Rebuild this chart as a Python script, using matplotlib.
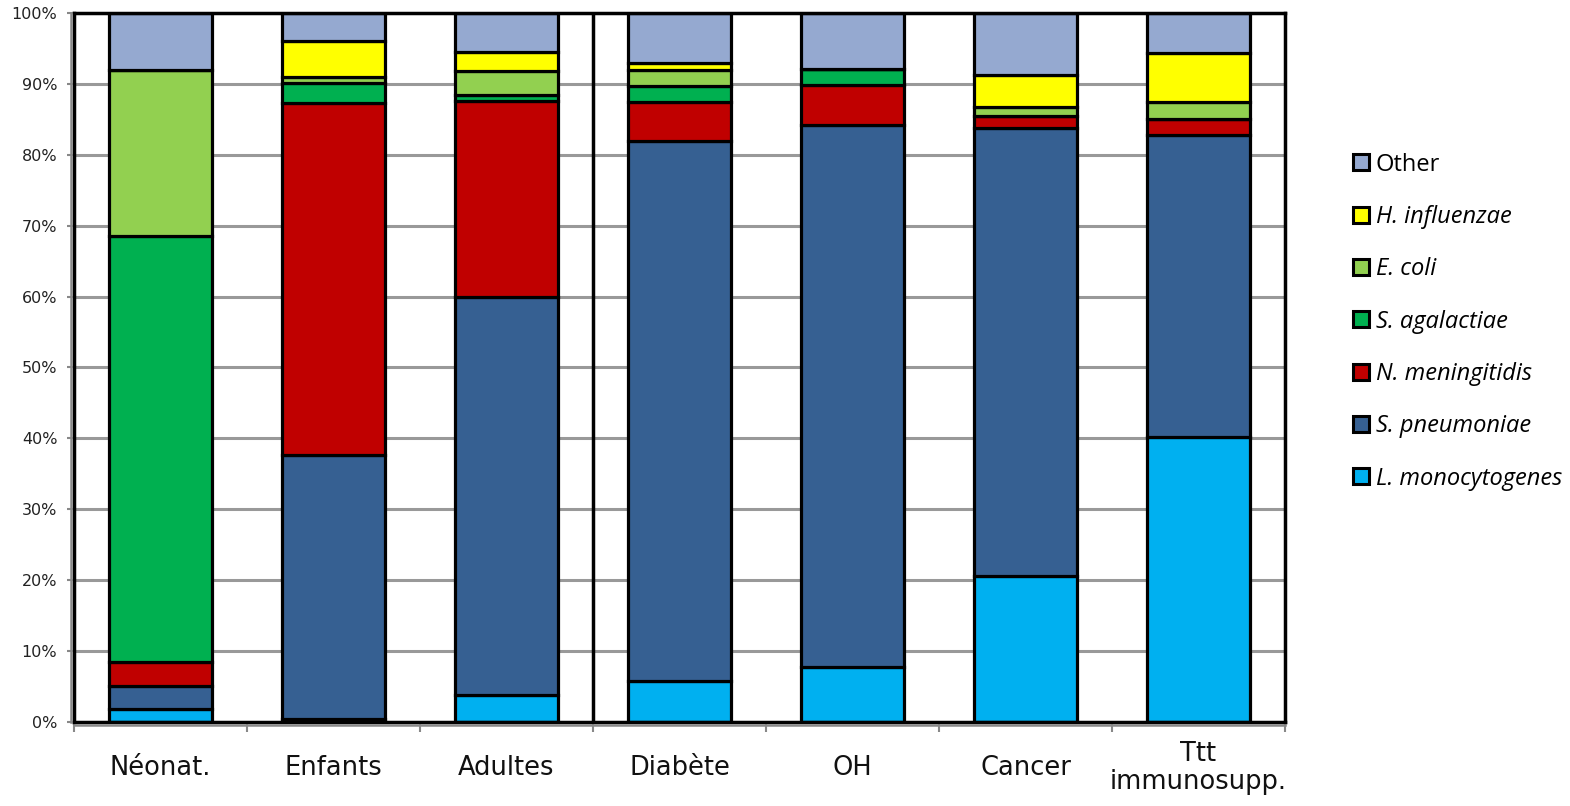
import matplotlib
matplotlib.use("Agg")
import matplotlib.pyplot as plt
from matplotlib.patches import Patch
from matplotlib.transforms import ScaledTranslation
import numpy as np

categories = ["Néonat.", "Enfants", "Adultes", "Diabète", "OH", "Cancer", "Ttt\nimmunosupp."]

# Share of each pathogen per population (%), bottom to top of the stack
l_monocytogenes = [1.8, 0.4, 3.8, 5.8, 7.7, 20.6, 40.2]
s_pneumoniae    = [3.3, 37.3, 56.1, 76.2, 76.5, 63.2, 42.6]
n_meningitidis  = [3.4, 49.6, 27.7, 5.5, 5.6, 1.6, 2.3]
s_agalactiae    = [60.0, 2.8, 0.9, 2.2, 2.3, 0.0, 0.0]
e_coli          = [23.4, 0.8, 3.3, 2.2, 0.0, 1.4, 2.3]
h_influenzae    = [0.0, 5.2, 2.7, 1.1, 0.0, 4.4, 6.9]
other           = [8.1, 3.9, 5.5, 7.0, 7.9, 8.8, 5.7]

series_names = ["L. monocytogenes", "S. pneumoniae", "N. meningitidis",
                "S. agalactiae", "E. coli", "H. influenzae", "Other"]
series_values = [l_monocytogenes, s_pneumoniae, n_meningitidis,
                 s_agalactiae, e_coli, h_influenzae, other]
series_colors = ["#00B0F0", "#366092", "#C00000", "#00B050",
                 "#92D050", "#FFFF00", "#95A9D0"]

fig = plt.figure(figsize=(15.7, 8.06), dpi=100)
ax = fig.add_axes([0.0471, 0.1042, 0.7714, 0.8797])

x = np.arange(len(categories))
bottom = np.zeros(len(categories))
for name, vals, col in zip(series_names, series_values, series_colors):
    vals = np.array(vals)
    ax.bar(x, vals, width=0.6, bottom=bottom, color=col, edgecolor="black",
           linewidth=2.3, zorder=3, label=name)
    bottom += vals

ax.set_xlim(-0.5, len(categories) - 0.5)
ax.set_ylim(0, 100)

# Horizontal grid
ax.set_yticks(np.arange(0, 101, 10))
ax.set_yticklabels([f"{v}%" for v in range(0, 101, 10)],
                   fontsize=11.5, family="DejaVu Sans", color="#222222")
ax.yaxis.grid(True, color="#999999", linewidth=2.2, zorder=0)
ax.tick_params(axis="y", direction="out", length=5, width=1.5, color="#888888", pad=7)

# Category labels at bar centres, ticks at category boundaries
ax.set_xticks(x)
ax.set_xticklabels(categories, fontsize=18.5, family="DejaVu Sans", color="#111111",
                   linespacing=1.1)
for lbl in ax.get_xticklabels():
    lbl.set_verticalalignment("center")
ax.tick_params(axis="x", which="major", length=0, pad=33)
ax.set_xticks(np.arange(-0.5, len(categories), 1.0), minor=True)
ax.tick_params(axis="x", which="minor", direction="out", length=7, width=1.5,
               color="#888888")

# Plot frame
for sp in ax.spines.values():
    sp.set_color("black")
    sp.set_linewidth(2.5)
    sp.set_zorder(4)

# Grey axis lines just outside the frame
off_left = ScaledTranslation(-2.5 / 100, 0, fig.dpi_scale_trans)
off_bottom = ScaledTranslation(0, -3 / 100, fig.dpi_scale_trans)
ax.plot([0, 0], [0, 1], transform=ax.transAxes + off_left, color="#888888",
        lw=1.8, clip_on=False, zorder=5)
ax.plot([0, 1], [0, 0], transform=ax.transAxes + off_bottom, color="#888888",
        lw=1.8, clip_on=False, zorder=5)

# Separator between age groups and risk factors
ax.axvline(2.5, color="black", linewidth=2.5, zorder=4)

# Legend, top entry first
handles = [Patch(facecolor=c, edgecolor="black", linewidth=2.2) for c in series_colors][::-1]
labels = series_names[::-1]
leg = fig.legend(handles, labels, loc="center left", bbox_to_anchor=(0.848, 0.601),
                 frameon=False, handlelength=0.68, handleheight=0.68,
                 handletextpad=0.3, labelspacing=1.2,
                 prop={"family": "Open Sans", "size": 17})
for t in leg.get_texts():
    if t.get_text() != "Other":
        t.set_fontstyle("italic")

fig.savefig("out.png", dpi=100)
